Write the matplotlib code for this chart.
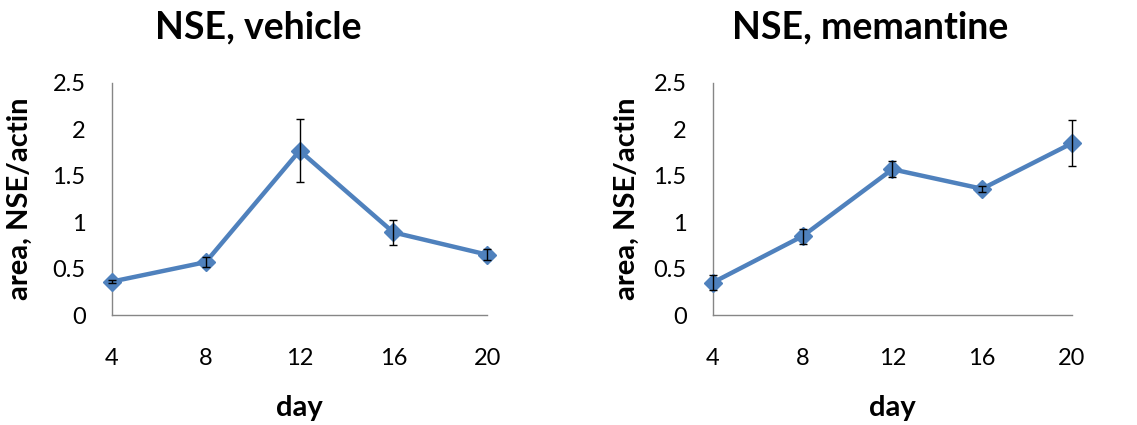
import matplotlib
matplotlib.use("Agg")
import matplotlib.pyplot as plt

plt.rcParams['font.family'] = ['Lato', 'DejaVu Sans']

days = [4, 8, 12, 16, 20]
vehicle_mean = [0.36, 0.57, 1.77, 0.89, 0.65]
vehicle_err = [0.02, 0.05, 0.34, 0.135, 0.06]
memantine_mean = [0.35, 0.85, 1.57, 1.36, 1.85]
memantine_err = [0.08, 0.08, 0.085, 0.03, 0.25]
titles = ["NSE, vehicle", "NSE, memantine"]
title_x = [0.227, 0.765]
y_ticks = [0, 0.5, 1, 1.5, 2, 2.5]
y_tick_labels = ["0", "0.5", "1", "1.5", "2", "2.5"]

line_color = "#4F81BD"
axis_color = "#868686"

fig = plt.figure(figsize=(11.37, 4.25), dpi=100)
ax_boxes = [
    [0.0985, 0.2588, 0.330, 0.546],
    [0.6270, 0.2588, 0.3157, 0.546],
]
ylabel_x = [-0.211, -0.203]

for box, title, tx, ylx, mean, err in zip(ax_boxes, titles, title_x, ylabel_x,
                                           [vehicle_mean, memantine_mean],
                                           [vehicle_err, memantine_err]):
    ax = fig.add_axes(box)
    ax.plot(days, mean, color=line_color, lw=3.2, marker="D", markersize=9,
            markeredgecolor=line_color, zorder=3, clip_on=False)
    ax.errorbar(days, mean, yerr=err, fmt="none", ecolor="black",
                elinewidth=1.0, capsize=3, capthick=1.0, zorder=4,
                clip_on=False)
    ax.set_xlim(days[0], days[-1])
    ax.set_ylim(0, 2.5)
    ax.set_xticks(days)
    ax.set_xticklabels([str(d) for d in days], fontsize=17)
    ax.set_yticks(y_ticks)
    ax.set_yticklabels(y_tick_labels, fontsize=17)
    ax.tick_params(length=0, colors="black")
    ax.tick_params(axis="x", pad=24)
    ax.tick_params(axis="y", pad=19)
    for side in ["top", "right"]:
        ax.spines[side].set_visible(False)
    for side in ["left", "bottom"]:
        ax.spines[side].set_color(axis_color)
        ax.spines[side].set_linewidth(1.0)
    ax.set_xlabel("day", fontsize=21, fontweight="bold")
    ax.xaxis.set_label_coords(0.5, -0.345)
    ax.set_ylabel("area, NSE/actin", fontsize=21, fontweight="bold")
    ax.yaxis.set_label_coords(ylx, 0.5)
    fig.text(tx, 0.9106, title, fontsize=27, fontweight="bold",
             ha="center", va="baseline")

fig.savefig("out.png", dpi=100)
